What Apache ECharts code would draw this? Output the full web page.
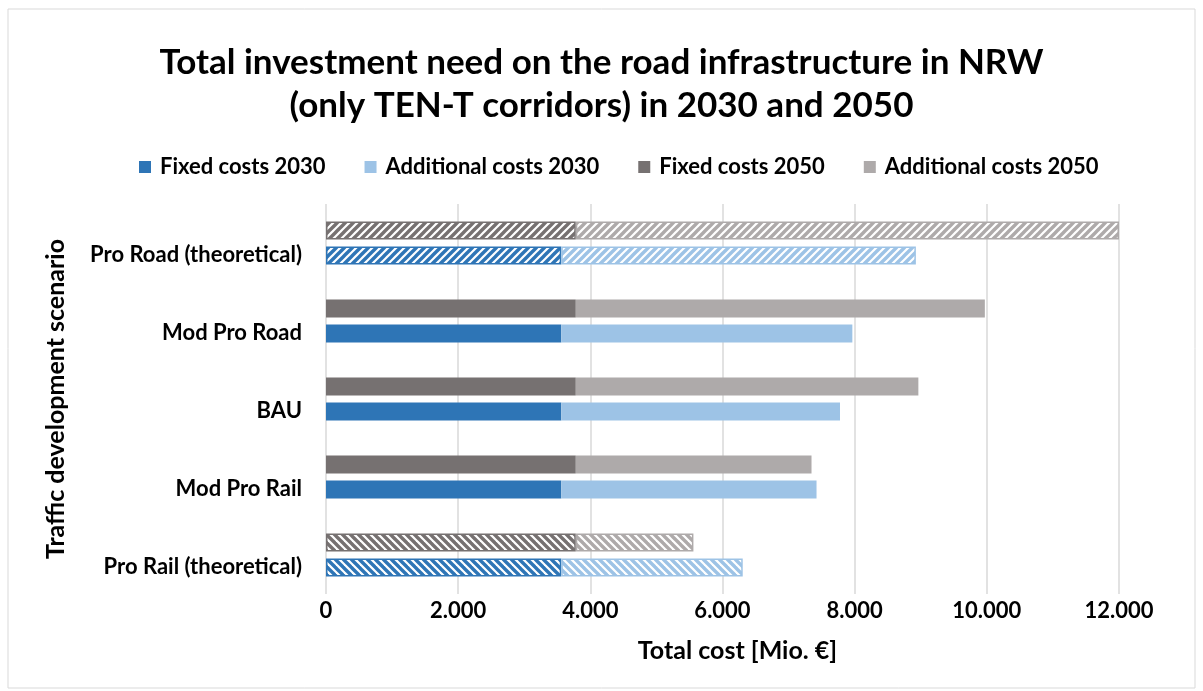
<!DOCTYPE html>
<html>
<head>
<meta charset="utf-8">
<script src="https://cdn.jsdelivr.net/npm/echarts@6/dist/echarts.min.js"></script>
<style>
	html, body { margin: 0; padding: 0; background: #fff; }
	#chart { width: 1203px; height: 691px; }
</style>
</head>
<body>
<div id="chart"></div>
<script>
	// scenarios, bottom to top
	const scenarios = ['Pro Rail (theoretical)', 'Mod Pro Rail', 'BAU', 'Mod Pro Road', 'Pro Road (theoretical)']
	const fixed2030 = [3560, 3560, 3560, 3560, 3560]
	const additional2030 = [2746, 3863, 4218, 4405, 5366]
	const fixed2050 = [3780, 3780, 3780, 3780, 3780]
	const additional2050 = [1780, 3567, 5184, 6190, 8220]
	// which scenarios are drawn hatched, and the stripe direction
	const hatch = ['down', null, null, null, 'up']
	const legendNames = ['Fixed costs 2030', 'Additional costs 2030', 'Fixed costs 2050', 'Additional costs 2050']

	const font = 'Lato, "Open Sans", sans-serif'

	// diagonal stripe tile
	function stripes(color, dir) {
		let c = document.createElement('canvas')
		c.width = 8
		c.height = 8
		let ctx = c.getContext('2d')
		ctx.fillStyle = '#fff'
		ctx.fillRect(0, 0, 8, 8)
		ctx.strokeStyle = color
		ctx.lineWidth = 3.4
		let segs = dir === 'up'
			? [[-4, 4, 4, -4], [0, 8, 8, 0], [4, 12, 12, 4]]
			: [[-4, 4, 4, 12], [0, 0, 8, 8], [4, -4, 12, 4]]
		segs.forEach(s => {
			ctx.beginPath()
			ctx.moveTo(s[0], s[1])
			ctx.lineTo(s[2], s[3])
			ctx.stroke()
		})
		return { image: c, repeat: 'repeat' }
	}

	function makeData(values, color) {
		return values.map((v, i) => {
			if (!hatch[i]) return v
			return {
				value: v,
				itemStyle: { color: stripes(color, hatch[i]), borderColor: color, borderWidth: 1.5 }
			}
		})
	}

	function fmt(v) {
		return String(v).replace(/\B(?=(\d{3})+(?!\d))/g, '.')
	}

	// echarts puts the first series of a group on top, so 2050 goes first
	const seriesDefs = [
		{ name: 'Fixed costs 2050', stack: 'y2050', color: '#767171', values: fixed2050 },
		{ name: 'Additional costs 2050', stack: 'y2050', color: '#AEAAAA', values: additional2050 },
		{ name: 'Fixed costs 2030', stack: 'y2030', color: '#2E75B6', values: fixed2030 },
		{ name: 'Additional costs 2030', stack: 'y2030', color: '#9DC3E6', values: additional2030 }
	]

	let myChart = echarts.init(document.getElementById('chart'))
	myChart.setOption({
		animation: false,
		title: {
			text: 'Total investment need on the road infrastructure in NRW\n(only TEN-T corridors) in 2030 and 2050',
			left: 'center',
			top: 36,
			padding: [5, 0, 5, 20],
			textStyle: {
				fontFamily: font,
				fontWeight: 'bold',
				fontSize: 35,
				lineHeight: 43,
				color: '#000'
			}
		},
		legend: {
			data: legendNames,
			top: 151,
			left: 134,
			itemWidth: 12,
			itemHeight: 12,
			itemGap: 39,
			icon: 'rect',
			textStyle: { fontFamily: font, fontWeight: 'bold', fontSize: 22, color: '#000', padding: [0, 0, 0, 4] }
		},
		graphic: [{
			type: 'rect',
			shape: { x: 8, y: 9, width: 1187, height: 679 },
			style: { fill: 'none', stroke: '#d9d9d9', lineWidth: 1 },
			silent: true
		}],
		grid: {
			left: 326,
			right: 84,
			top: 204,
			bottom: 97
		},
		xAxis: {
			type: 'value',
			min: 0,
			max: 12000,
			interval: 2000,
			name: 'Total cost [Mio. €]',
			nameLocation: 'middle',
			nameGap: 44,
			nameTextStyle: { fontFamily: font, fontWeight: 'bold', fontSize: 25, color: '#000', padding: [0, 0, 0, 30] },
			axisLine: { show: false },
			axisTick: { show: false },
			splitLine: { lineStyle: { color: '#d9d9d9', width: 1.5 } },
			axisLabel: {
				margin: 6,
				fontFamily: font,
				fontWeight: 'bold',
				fontSize: 22,
				color: '#000',
				formatter: fmt
			}
		},
		yAxis: {
			type: 'category',
			data: scenarios,
			name: 'Traffic development scenario',
			nameLocation: 'middle',
			nameRotate: 90,
			nameGap: 258,
			nameTextStyle: { fontFamily: font, fontWeight: 'bold', fontSize: 25, color: '#000' },
			axisLine: { show: false },
			axisTick: { show: false },
			axisLabel: {
				margin: 24,
				verticalAlign: 'top',
				lineHeight: 22,
				padding: [1, 0, 0, 0],
				fontFamily: font,
				fontWeight: 'bold',
				fontSize: 22,
				color: '#000'
			}
		},
		series: seriesDefs.map(d => ({
			name: d.name,
			type: 'bar',
			stack: d.stack,
			barWidth: 18,
			barGap: '40%',
			itemStyle: { color: d.color },
			data: makeData(d.values, d.color)
		}))
	})
</script>
</body>
</html>
